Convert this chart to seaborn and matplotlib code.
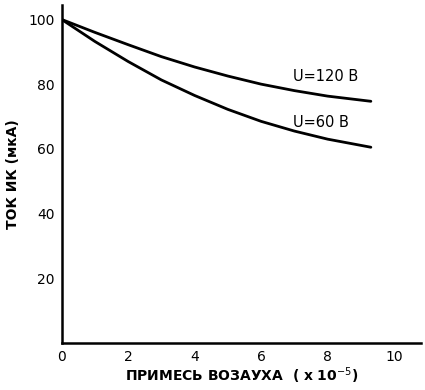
import matplotlib
matplotlib.use("Agg")
import matplotlib.pyplot as plt
import seaborn as sns
import pandas as pd

x_vals = [0, 1, 2, 3, 4, 5, 6, 7, 8, 9.3]
u120 = [100, 96, 92.2, 88.5, 85.3, 82.5, 80.0, 78.0, 76.3, 74.7]
u60 = [100, 93.2, 87.0, 81.3, 76.5, 72.2, 68.5, 65.5, 63.0, 60.5]
series_labels = ["U=120 B", "U=60 B"]
x_ticks = [0, 2, 4, 6, 8, 10]
y_ticks = [20, 40, 60, 80, 100]

sns.set_theme(style="white")
plt.rcParams['font.family'] = ['DejaVu Sans']

df = pd.DataFrame({
    "x": x_vals * 2,
    "y": u120 + u60,
    "s": [series_labels[0]] * len(x_vals) + [series_labels[1]] * len(x_vals),
})

fig = plt.figure(figsize=(4.25, 3.9), dpi=100)
ax = fig.add_axes([0.145, 0.1205, 0.845, 0.867])
sns.lineplot(data=df, x="x", y="y", hue="s", palette=["black", "black"],
             linewidth=2.0, legend=False, ax=ax)

ax.set_xlim(0, 10.8)
ax.set_ylim(0, 104.5)
ax.set_xticks(x_ticks)
ax.set_yticks(y_ticks)
ax.set_xticklabels([str(t) for t in x_ticks], fontsize=10, color="black")
ax.set_yticklabels([str(t) for t in y_ticks], fontsize=10, color="black")
ax.tick_params(axis="both", direction="out", length=3, width=1.5, color="black", pad=2)
for s in ["top", "right"]:
    ax.spines[s].set_visible(False)
for s in ["left", "bottom"]:
    ax.spines[s].set_color("black")
    ax.spines[s].set_linewidth(1.8)

ax.set_xlabel("ПРИМЕСЬ ВОЗАУХА  ( x 10$^{-5}$)", fontsize=10, fontweight="bold",
              labelpad=1, color="black")
ax.set_ylabel("ТОК ИК (мкА)", fontsize=10, fontweight="bold", labelpad=6, color="black")

ax.text(6.95, 82.5, series_labels[0], fontsize=10.5, ha="left", va="center", color="black")
ax.text(6.95, 68.3, series_labels[1], fontsize=10.5, ha="left", va="center", color="black")

fig.savefig("out.png", dpi=100)
